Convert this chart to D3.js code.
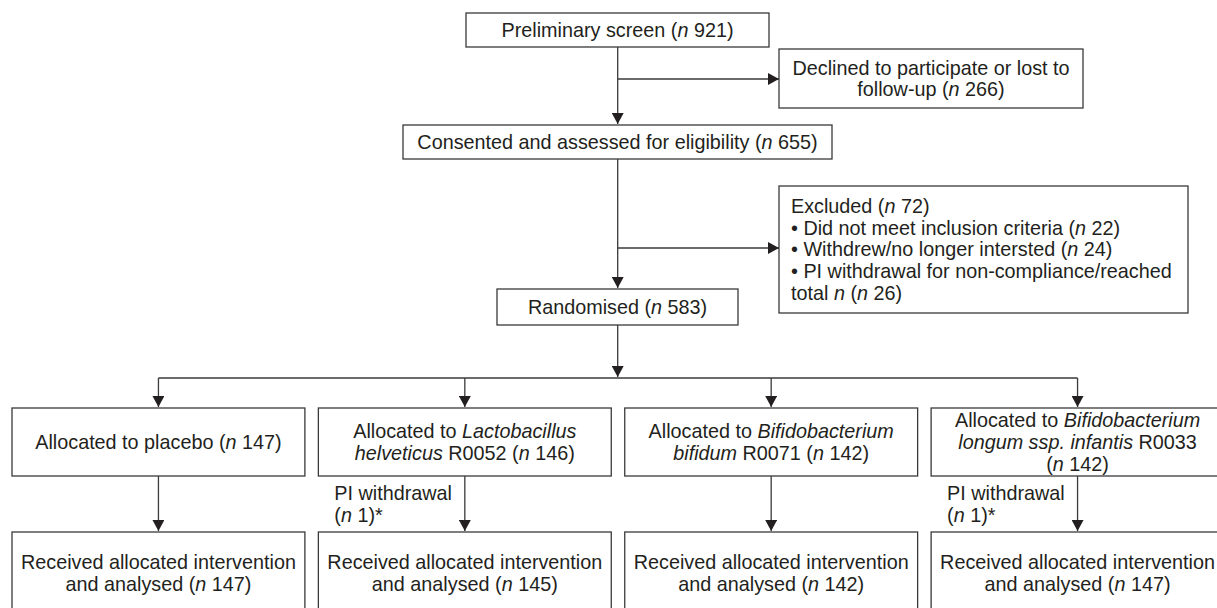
<!DOCTYPE html>
<html>
<head>
<meta charset="utf-8">
<script src="https://cdn.jsdelivr.net/npm/d3@7"></script>
<style>
  body { margin: 0; background: #fff; }
  svg { display: block; }
  text { font-family: "Liberation Sans", Arial, sans-serif; font-size: 19.8px; fill: #231f20; }
</style>
</head>
<body>
<script>
// counts
const screenN = 921;
const declinedN = 266;
const consentedN = 655;
const excludedN = 72;
const excludedReasons = ['Did not meet inclusion criteria', 'Withdrew/no longer intersted', 'PI withdrawal for non-compliance/reached'];
const excludedReasonN = [22, 24, 26];
const randomisedN = 583;

const arms = ['placebo', 'helveticus', 'bifidum', 'infantis'];
const allocPrefix = [
    ['Allocated to placebo'],
    ['Allocated to _Lactobacillus_', '_helveticus_ R0052'],
    ['Allocated to _Bifidobacterium_', '_bifidum_ R0071'],
    ['Allocated to _Bifidobacterium_', '_longum ssp. infantis_ R0033', '']
];
const allocN = [147, 146, 142, 142];
const withdrawnN = [0, 1, 0, 1];
const analysedN = [147, 145, 142, 147];

const width = 1217;
const height = 608;
const lh = 21.7;
const cx = 617.7;

const svg = d3.select('body').append('svg')
    .attr('width', width)
    .attr('height', height);

svg.append('defs').append('marker')
    .attr('id', 'arrow')
    .attr('markerUnits', 'userSpaceOnUse')
    .attr('markerWidth', 11)
    .attr('markerHeight', 12)
    .attr('refX', 11)
    .attr('refY', 6)
    .attr('orient', 'auto')
    .append('path')
    .attr('d', 'M0,0 L11,6 L0,12 Z')
    .attr('fill', '#231f20');

const col = d3.scaleBand().domain(arms).range([12, 1224]).paddingInner(0.044);
const mid = (a) => col(a) + col.bandwidth() / 2;

// text with _italic_ runs
function richLine(sel, str, x, y, anchor) {
    const t = sel.append('text')
        .attr('x', x)
        .attr('y', y)
        .attr('dy', '0.35em')
        .attr('text-anchor', anchor || 'middle');
    str.split('_').forEach((part, i) => {
        if (part === '') return;
        t.append('tspan')
            .style('font-style', i % 2 ? 'italic' : 'normal')
            .text(part);
    });
}

function box(b, lines, align) {
    svg.append('rect')
        .attr('x', b.x0).attr('y', b.y0)
        .attr('width', b.x1 - b.x0).attr('height', b.y1 - b.y0)
        .attr('fill', 'none')
        .attr('stroke', '#3a3a3a')
        .attr('stroke-width', 1.3);
    const cy = (b.y0 + b.y1) / 2;
    lines.forEach((l, i) => {
        const y = cy + (i - (lines.length - 1) / 2) * lh;
        if (align === 'left') richLine(svg, l, b.x0 + 12, y, 'start');
        else richLine(svg, l, (b.x0 + b.x1) / 2, y, 'middle');
    });
}

const line = d3.line();
function edge(pts, arrow) {
    svg.append('path')
        .attr('d', line(pts))
        .attr('fill', 'none')
        .attr('stroke', '#3a3a3a')
        .attr('stroke-width', 1.3)
        .attr('marker-end', arrow ? 'url(#arrow)' : null);
}

const prelim = {x0: 466, x1: 769, y0: 13, y1: 47};
const declined = {x0: 779, x1: 1083, y0: 49, y1: 108};
const consented = {x0: 403, x1: 832, y0: 125, y1: 159};
const excluded = {x0: 779, x1: 1188, y0: 186, y1: 313};
const randomised = {x0: 497, x1: 738, y0: 289, y1: 325};
const branchY = 378;
const allocY = [408, 476];
const recvY = [532, 614];

box(prelim, [`Preliminary screen (_n_ ${screenN})`]);
box(declined, ['Declined to participate or lost to', `follow-up (_n_ ${declinedN})`]);
box(consented, [`Consented and assessed for eligibility (_n_ ${consentedN})`]);
const exLines = [`Excluded (_n_ ${excludedN})`]
    .concat(excludedReasons.map((r, i) => i < 2 ? `\u2022 ${r} (_n_ ${excludedReasonN[i]})` : `\u2022 ${r}`))
    .concat([`total _n_ (_n_ ${excludedReasonN[2]})`]);
box(excluded, exLines, 'left');
box(randomised, [`Randomised (_n_ ${randomisedN})`]);

edge([[cx, prelim.y1], [cx, consented.y0 - 1]], true);
edge([[cx, 79], [declined.x0, 79]], true);
edge([[cx, consented.y1], [cx, randomised.y0 - 1]], true);
edge([[cx, 248], [excluded.x0, 248]], true);
edge([[cx, randomised.y1], [cx, branchY - 1]], true);
edge([[mid(arms[0]), branchY], [mid(arms[arms.length - 1]), branchY]], false);

arms.forEach((a, i) => {
    const x0 = col(a), x1 = col(a) + col.bandwidth();
    const lines = allocPrefix[i].slice();
    const last = lines.length - 1;
    lines[last] = (lines[last] ? lines[last] + ' ' : '') + `(_n_ ${allocN[i]})`;
    box({x0: x0, x1: x1, y0: allocY[0], y1: allocY[1]}, lines);
    box({x0: x0, x1: x1, y0: recvY[0], y1: recvY[1]},
        ['Received allocated intervention', `and analysed (_n_ ${analysedN[i]})`]);
    edge([[mid(a), branchY], [mid(a), allocY[0] - 1]], true);
    edge([[mid(a), allocY[1]], [mid(a), recvY[0] - 1]], true);
    if (withdrawnN[i] > 0) {
        richLine(svg, 'PI withdrawal', x0 + 16, 493, 'start');
        richLine(svg, `(_n_ ${withdrawnN[i]})*`, x0 + 16, 515, 'start');
    }
});
</script>
</body>
</html>
